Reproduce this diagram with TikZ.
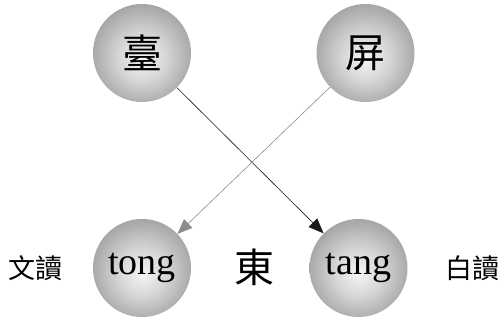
\documentclass[tikz,border=0pt]{standalone}
\usepackage{fontspec}
\setmainfont{Liberation Serif}
\newfontfamily\cjk{Noto Sans CJK TC}
\usetikzlibrary{arrows.meta}

% grey ball: light core, darker rim
\pgfdeclareradialshading{ballgrey}{\pgfpoint{0bp}{-3bp}}{%
  color(0bp)=(black!4);
  color(12bp)=(black!16);
  color(30bp)=(black!40);
  color(44bp)=(black!56);
  color(50bp)=(black!64)}

\begin{document}
\begin{tikzpicture}[x=1pt,y=-1pt,
  ball/.style={circle,minimum size=98pt,inner sep=0pt,shading=ballgrey},
  hanzi/.style={font=\cjk\fontsize{40}{40}\selectfont},
  roman/.style={font=\fontsize{38}{38}\selectfont},
  side/.style={font=\cjk\fontsize{27}{27}\selectfont,inner sep=0pt},
  link/.style={-{Triangle[length=15pt,width=12pt]},line width=0.6pt}]
  \useasboundingbox (0,0) rectangle (500,320);

  \node[ball,hanzi] (tai)  at (142,53)  {臺};
  \node[ball,hanzi] (ping) at (365.5,53) {屏};
  \node[ball,roman] (tong) at (142,268) {tong};
  \node[ball,roman] (tang) at (358.5,268) {tang};

  \node[hanzi] (dong) at (254,267) {東};
  \node[side]  (wen)  at (36,268)  {文讀};
  \node[side]  (bai)  at (472.5,268) {白讀};

  \draw[link,black!90] (tai) -- (tang);
  \draw[link,black!45] (ping) -- (tong);
\end{tikzpicture}
\end{document}
